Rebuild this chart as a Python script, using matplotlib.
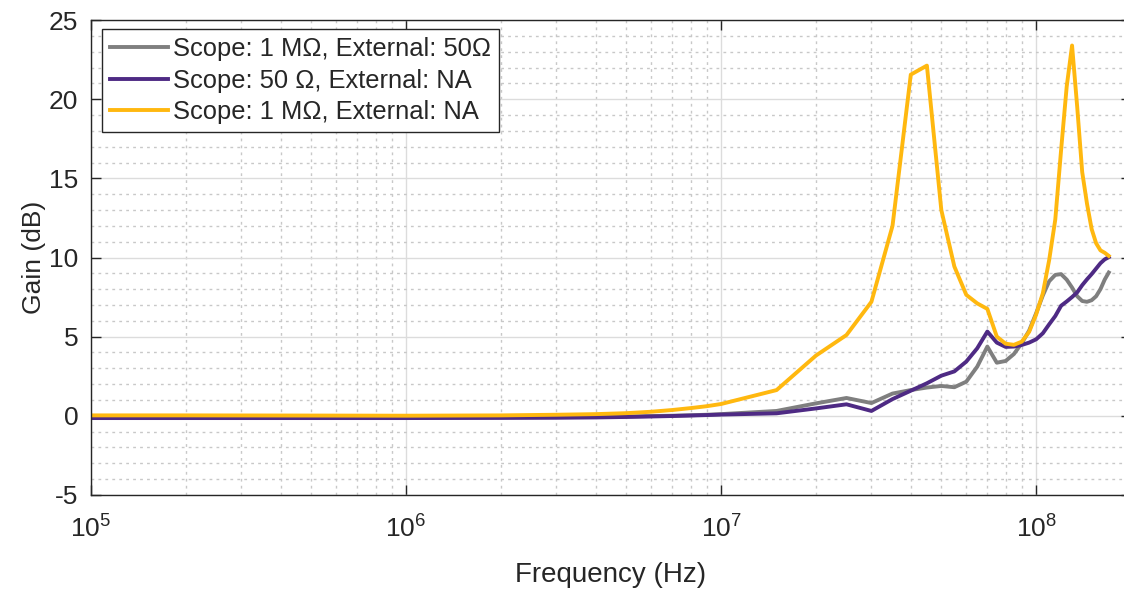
import numpy as np
import matplotlib
matplotlib.use('Agg')
import matplotlib.pyplot as plt
from matplotlib.ticker import FixedLocator, NullFormatter

plt.rcParams['font.family'] = ['Liberation Sans', 'DejaVu Sans']
plt.rcParams['mathtext.fontset'] = 'custom'
plt.rcParams['mathtext.rm'] = 'Liberation Sans'
plt.rcParams['mathtext.it'] = 'Liberation Sans'
plt.rcParams['axes.unicode_minus'] = False

#%% data
freq = [1e5, 2e5, 5e5, 1e6, 2e6, 3e6, 4e6, 5e6, 6e6, 7e6, 8e6, 9e6, 1e7,
        1.5e7, 2e7, 2.5e7, 3e7, 3.5e7, 4e7, 4.5e7, 5e7, 5.5e7, 6e7, 6.5e7, 7e7, 7.5e7, 8e7, 8.5e7, 9e7, 9.5e7,
        1e8, 1.05e8, 1.1e8, 1.15e8, 1.2e8, 1.25e8, 1.3e8, 1.35e8, 1.4e8, 1.45e8, 1.5e8, 1.55e8, 1.6e8, 1.65e8, 1.7e8]

gain_1M_ext50 = [-0.1, -0.1, -0.1, -0.1, -0.1, -0.09, -0.08, -0.05, -0.02, 0.0, 0.03, 0.06, 0.1,
                 0.3, 0.78, 1.12, 0.8, 1.4, 1.62, 1.78, 1.88, 1.8, 2.15, 3.1, 4.37, 3.35, 3.46, 3.9, 4.58, 5.38,
                 6.48, 7.6, 8.5, 8.9, 8.95, 8.6, 8.1, 7.55, 7.25, 7.2, 7.3, 7.55, 8.0, 8.6, 9.05]

gain_50 = [-0.15, -0.15, -0.15, -0.15, -0.14, -0.13, -0.11, -0.08, -0.05, -0.02, 0.01, 0.04, 0.07,
           0.15, 0.46, 0.72, 0.3, 1.05, 1.58, 2.05, 2.53, 2.8, 3.42, 4.26, 5.32, 4.62, 4.35, 4.37, 4.47, 4.62,
           4.83, 5.21, 5.78, 6.3, 6.95, 7.22, 7.5, 7.8, 8.25, 8.62, 8.95, 9.3, 9.64, 9.88, 10.02]

gain_1M = [0.02, 0.02, 0.01, 0.0, 0.02, 0.06, 0.1, 0.16, 0.25, 0.36, 0.48, 0.6, 0.74,
           1.62, 3.8, 5.1, 7.2, 12.0, 21.56, 22.13, 13.0, 9.43, 7.64, 7.1, 6.75, 5.0, 4.55, 4.48, 4.68, 5.3,
           6.4, 7.74, 9.85, 12.4, 16.8, 20.8, 23.4, 19.5, 15.4, 13.4, 11.8, 10.9, 10.45, 10.3, 10.1]

labels = ['Scope: 1 M\u03a9, External: 50\u03a9',
          'Scope: 50 \u03a9, External: NA',
          'Scope: 1 M\u03a9, External: NA']
colors = ['#7f7f7f', '#4e2a84', '#ffb80f']

#%%
txt = '#262626'
fig = plt.figure(figsize=(11.24, 5.92), dpi=100)
ax = fig.add_axes([91/1124, 1-494.8/592, 1040/1124, 474.6/592])

ax.plot(freq, gain_1M_ext50, color=colors[0], lw=2.8, label=labels[0])
ax.plot(freq, gain_50, color=colors[1], lw=2.8, label=labels[1])
ax.plot(freq, gain_1M, color=colors[2], lw=2.8, label=labels[2])

ax.set_xscale('log')
ax.set_xlim(1e5, 2e8)
ax.set_ylim(-5, 25)
ax.xaxis.set_major_locator(FixedLocator([1e5, 1e6, 1e7, 1e8]))
ax.set_xticklabels([r'$10^5$', r'$10^6$', r'$10^7$', r'$10^8$'])
minor_x = [m * 10**d for d in range(5, 9) for m in range(2, 10)]
ax.xaxis.set_minor_locator(FixedLocator(minor_x))
ax.xaxis.set_minor_formatter(NullFormatter())
ax.set_yticks(range(-5, 26, 5))
ax.yaxis.set_minor_locator(FixedLocator([v for v in range(-5, 26) if v % 5 != 0]))

ax.grid(which='major', color='#dcdcdc', lw=1.0, ls='-')
ax.grid(which='minor', color='#c8c8c8', lw=1.0, ls=(0, (2, 3)))
ax.set_axisbelow(True)

ax.tick_params(which='major', direction='in', length=7, width=1, colors=txt,
               labelsize=19, top=True, right=True)
ax.tick_params(axis='x', which='major', pad=15)
ax.tick_params(axis='y', which='major', pad=9)
ax.tick_params(which='minor', length=0)
for sp in ax.spines.values():
    sp.set_color(txt)
    sp.set_linewidth(1)

ax.set_xlabel('Frequency (Hz)', fontsize=20, color=txt, labelpad=14)
ax.set_ylabel('Gain (dB)', fontsize=19, color=txt, labelpad=2)

leg = ax.legend(loc='upper left', bbox_to_anchor=(0.0105, 0.981), fontsize=18.4,
                frameon=True, fancybox=False, framealpha=1, edgecolor='#262626',
                handlelength=2.3, handletextpad=0.2, labelspacing=0.3,
                borderpad=0.3, borderaxespad=0)
leg.get_frame().set_linewidth(1)
for t in leg.get_texts():
    t.set_color(txt)

plt.savefig('out.png', dpi=100)
